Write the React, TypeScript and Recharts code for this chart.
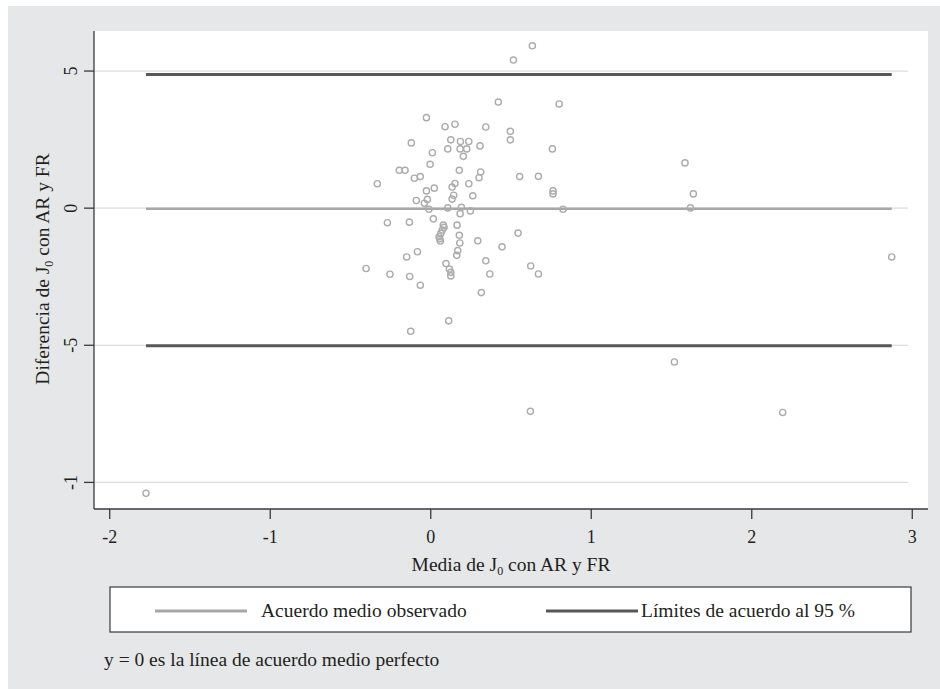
import React from 'react';
import { ScatterChart, Scatter, XAxis, YAxis, ReferenceLine } from 'recharts';

// Media de J0 con AR y FR (x) and Diferencia de J0 con AR y FR (y)
const mediaValues = [
  0.421, 0.80, -0.027, 0.089, 0.151, 0.343, 0.496, 0.496, -0.121, 0.125,
  0.185, 0.237, 0.106, 0.183, 0.224, 0.307, 0.758, 0.010, 0.203, -0.004,
  -0.196, -0.160, 0.178, 0.311, 0.301, -0.102, -0.065, 0.554, 0.671, -0.333,
  0.237, 0.151, 0.133, 0.022, -0.027, 0.762, 0.762, 0.143, 0.262, 0.133,
  -0.021, -0.090, -0.040, -0.011, 0.106, 0.191, 0.183, 0.247, 0.824, 0.016,
  -0.270, -0.133, 0.164, 0.078, 0.083, 0.072, 0.063, 0.052, 0.056, 0.060,
  0.178, 0.181, 0.293, 0.444, 0.544, -0.083, -0.150, 0.168, 0.162, 0.343,
  0.623, 0.671, 0.368, -0.403, -0.254, -0.131, -0.065, 0.095, 0.116, 0.125,
  0.125, 0.315, 0.112, -0.125, 0.633, 0.515, 1.584, 1.636, 1.618, 2.872,
  1.518, 0.621, 2.193, -1.774,
];
const diferenciaValues = [
  3.87, 3.80, 3.30, 2.97, 3.06, 2.96, 2.80, 2.49, 2.38, 2.49,
  2.43, 2.43, 2.16, 2.16, 2.16, 2.27, 2.16, 2.02, 1.89, 1.60,
  1.38, 1.38, 1.38, 1.32, 1.11, 1.09, 1.15, 1.15, 1.16, 0.89,
  0.89, 0.90, 0.77, 0.73, 0.63, 0.63, 0.52, 0.47, 0.45, 0.33,
  0.32, 0.28, 0.18, -0.04, 0.01, 0.03, -0.20, -0.10, -0.04, -0.39,
  -0.53, -0.51, -0.62, -0.62, -0.70, -0.80, -0.92, -1.04, -1.12, -1.20,
  -0.99, -1.27, -1.19, -1.41, -0.91, -1.59, -1.78, -1.55, -1.72, -1.92,
  -2.11, -2.40, -2.40, -2.20, -2.41, -2.49, -2.81, -2.02, -2.22, -2.34,
  -2.47, -3.08, -4.11, -4.49, 5.92, 5.40, 1.65, 0.52, 0.01, -1.78,
  -5.61, -7.41, -7.45, -10.40,
];

const meanDiff = -0.02;
const upperLimit = 4.87;
const lowerLimit = -5.02;

const xTicks = [-2, -1, 0, 1, 2, 3];
const yTicks = [-10, -5, 0, 5];
const yTickLabels = ['-1', '-5', '0', '5'];

const xDomain: [number, number] = [-2.098, 3.098];
const yDomain: [number, number] = [-10.97, 6.46];
const gridEnd = 2.974;

const legendLabels = ['Acuerdo medio observado', 'Límites de acuerdo al 95 %'];
const noteText = 'y = 0 es la línea de acuerdo medio perfecto';

const points = mediaValues.map((m, i) => ({ x: m, y: diferenciaValues[i] }));
const xMin = Math.min(...mediaValues);
const xMax = Math.max(...mediaValues);

const FONT = '"Liberation Serif", "Times New Roman", serif';
const TEXT = '#231f20';
const MEAN_COLOR = '#a7a7a9';
const LIMIT_COLOR = '#58585a';

const YTick = (props: any) => {
  const { y, payload } = props;
  const idx = yTicks.indexOf(payload.value);
  return (
    <text
      x={77}
      y={y}
      transform={`rotate(-90, 77, ${y})`}
      textAnchor="middle"
      fontFamily={FONT}
      fontSize={18}
      fill={TEXT}
    >
      {yTickLabels[idx]}
    </text>
  );
};

const Dot = (props: any) => (
  <circle cx={props.cx} cy={props.cy} r={3.1} fill="none" stroke="#acacae" strokeWidth={1.4} />
);

export default function App() {
  return (
    <div style={{ position: 'fixed', left: 0, top: 0, width: 940, height: 689, overflow: 'hidden', background: '#fff' }}>
      <div style={{ position: 'absolute', left: 8, top: 6, width: 932, height: 683, background: '#e6e7e9' }} />
      <div style={{ position: 'absolute', left: 94, top: 31, width: 834, height: 478, background: '#fff' }} />
      <div style={{ position: 'absolute', left: 0, top: 0 }}>
        <ScatterChart width={940} height={689} margin={{ top: 31, right: 12, bottom: 140, left: 34 }}>
          <XAxis
            type="number"
            dataKey="x"
            domain={xDomain}
            ticks={xTicks}
            allowDataOverflow
            height={40}
            tickSize={10}
            tickMargin={11}
            axisLine={{ stroke: '#3a3a3c', strokeWidth: 1.3 }}
            tickLine={{ stroke: '#3a3a3c', strokeWidth: 1.3 }}
            tick={{ fontFamily: FONT, fontSize: 18, fill: TEXT }}
          />
          <YAxis
            type="number"
            dataKey="y"
            domain={yDomain}
            ticks={yTicks}
            allowDataOverflow
            width={60}
            tickSize={10}
            axisLine={{ stroke: '#3a3a3c', strokeWidth: 1.3 }}
            tickLine={{ stroke: '#3a3a3c', strokeWidth: 1.3 }}
            tick={<YTick />}
          />
          {yTicks.map((t) => (
            <ReferenceLine
              key={'g' + t}
              segment={[{ x: xDomain[0], y: t }, { x: gridEnd, y: t }]}
              stroke="#dcdcde"
              strokeWidth={1.2}
              ifOverflow="visible"
            />
          ))}
          <ReferenceLine
            segment={[{ x: xMin, y: meanDiff }, { x: xMax, y: meanDiff }]}
            stroke={MEAN_COLOR}
            strokeWidth={2.6}
            ifOverflow="visible"
          />
          <ReferenceLine
            segment={[{ x: xMin, y: upperLimit }, { x: xMax, y: upperLimit }]}
            stroke={LIMIT_COLOR}
            strokeWidth={3}
            ifOverflow="visible"
          />
          <ReferenceLine
            segment={[{ x: xMin, y: lowerLimit }, { x: xMax, y: lowerLimit }]}
            stroke={LIMIT_COLOR}
            strokeWidth={3}
            ifOverflow="visible"
          />
          <Scatter data={points} shape={<Dot />} isAnimationActive={false} />
        </ScatterChart>
      </div>
      <svg width={940} height={689} style={{ position: 'absolute', left: 0, top: 0, pointerEvents: 'none' }}>
        <text x={511} y={571} textAnchor="middle" fontFamily={FONT} fontSize={19.5} fill={TEXT}>
          Media de J<tspan fontSize={12} dy={4}>0</tspan>
          <tspan dy={-4}> con AR y FR</tspan>
        </text>
        <text
          x={49}
          y={269}
          transform="rotate(-90, 49, 269)"
          textAnchor="middle"
          fontFamily={FONT}
          fontSize={19.5}
          fill={TEXT}
        >
          Diferencia de J<tspan fontSize={12} dy={4}>0</tspan>
          <tspan dy={-4}> con AR y FR</tspan>
        </text>
        <rect x={110} y={587} width={801} height={45} fill="#fff" stroke="#3a3a3c" strokeWidth={1.2} />
        <line x1={155} y1={611} x2={247} y2={611} stroke={MEAN_COLOR} strokeWidth={3} />
        <text x={261} y={617} fontFamily={FONT} fontSize={19.5} fill={TEXT}>{legendLabels[0]}</text>
        <line x1={546} y1={611} x2={638} y2={611} stroke={LIMIT_COLOR} strokeWidth={3} />
        <text x={641} y={617} fontFamily={FONT} fontSize={19.5} fill={TEXT}>{legendLabels[1]}</text>
        <text x={104} y={666} fontFamily={FONT} fontSize={19.5} fill={TEXT}>{noteText}</text>
      </svg>
    </div>
  );
}
